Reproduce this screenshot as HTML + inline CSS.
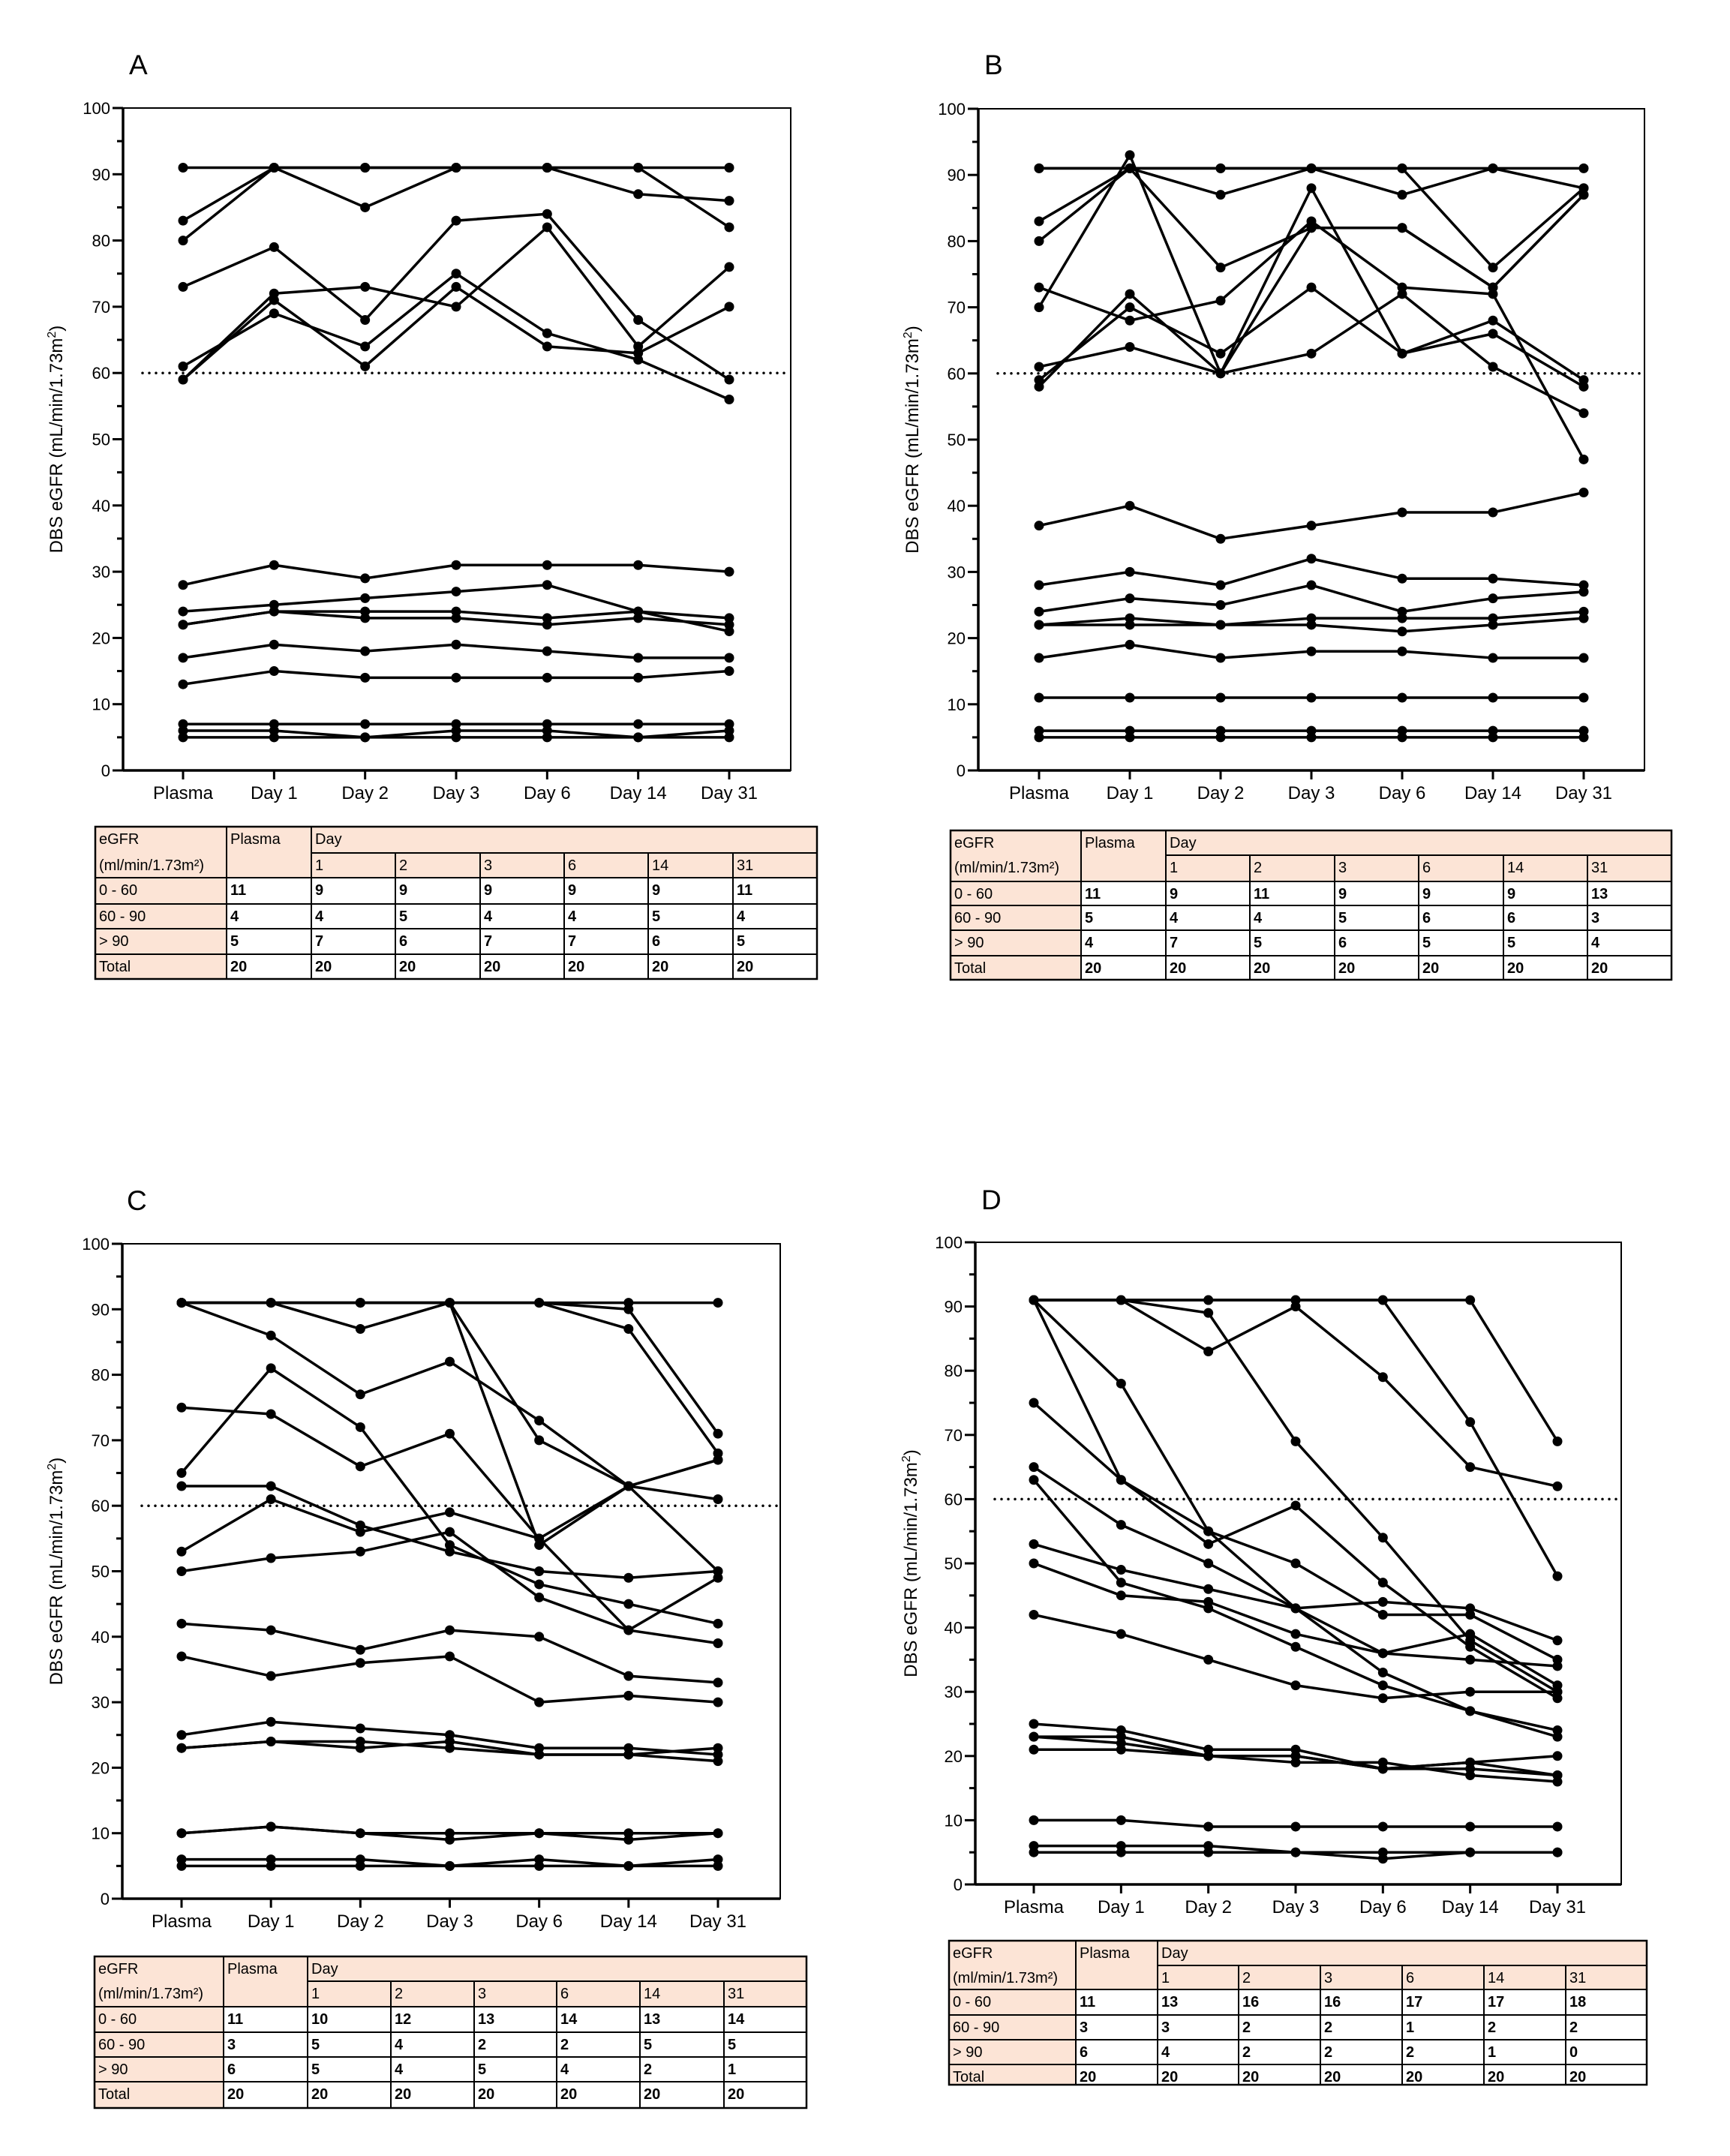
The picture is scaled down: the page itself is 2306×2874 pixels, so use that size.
<!DOCTYPE html>
<html><head><meta charset="utf-8"><style>
body{margin:0;background:#fff;}
svg{display:block;font-family:"Liberation Sans",Arial,sans-serif;}
</style></head><body>
<svg id="fig" width="2306" height="2874" viewBox="0 0 2306 2874" xmlns="http://www.w3.org/2000/svg"></svg>
<script>
const categories = ["Plasma","Day 1","Day 2","Day 3","Day 6","Day 14","Day 31"];
const yTicks = [0,10,20,30,40,50,60,70,80,90,100];
const seriesA = [
 [91,91,91,91,91,91,91],[83,91,85,91,91,87,86],[80,91,91,91,91,91,82],
 [73,79,68,83,84,68,59],[59,72,73,70,82,64,76],[61,69,64,75,66,62,56],[59,71,61,73,64,63,70],
 [28,31,29,31,31,31,30],[24,25,26,27,28,24,21],[22,24,24,24,23,24,23],[22,24,23,23,22,23,22],
 [17,19,18,19,18,17,17],[13,15,14,14,14,14,15],[7,7,7,7,7,7,7],[6,6,5,6,6,5,6],[5,5,5,5,5,5,5]];
const seriesB = [
 [91,91,91,91,91,91,91],[83,91,87,91,87,91,88],[80,91,76,82,82,73,87],[91,91,91,91,91,76,88],
 [70,93,60,88,63,68,59],[73,68,71,83,73,72,47],[61,64,60,63,72,61,54],[59,70,63,73,63,66,58],[58,72,60,82,82,73,87],
 [37,40,35,37,39,39,42],[28,30,28,32,29,29,28],[24,26,25,28,24,26,27],[22,23,22,23,23,23,24],
 [22,22,22,22,21,22,23],[17,19,17,18,18,17,17],[11,11,11,11,11,11,11],[6,6,6,6,6,6,6],[5,5,5,5,5,5,5]];
const seriesC = [
 [91,91,91,91,91,91,91],[91,91,87,91,91,90,71],[91,86,77,82,73,63,50],[91,91,91,91,70,63,61],
 [91,91,91,91,91,87,68],[91,91,91,91,54,63,67],[65,81,72,54,48,45,42],[75,74,66,71,55,41,49],
 [63,63,57,53,50,49,50],[53,61,56,59,55,63,67],[50,52,53,56,46,41,39],[42,41,38,41,40,34,33],
 [37,34,36,37,30,31,30],[25,27,26,25,23,23,22],[23,24,24,23,22,22,23],[23,24,23,24,22,22,21],
 [10,11,10,10,10,10,10],[10,11,10,9,10,9,10],[6,6,6,5,6,5,6],[5,5,5,5,5,5,5]];
const seriesD = [
 [91,91,91,91,91,91,69],[91,91,91,91,91,72,48],[91,91,89,69,54,38,30],[91,91,83,90,79,65,62],
 [91,78,55,50,42,42,35],[91,63,55,43,33,27,24],[75,63,53,59,47,37,29],[65,56,50,43,36,39,31],
 [63,47,43,37,31,27,23],[53,49,46,43,44,43,38],[50,45,44,39,36,35,34],[42,39,35,31,29,30,30],
 [25,24,21,21,18,19,20],[23,23,20,20,18,18,17],[23,22,20,19,19,17,16],[21,21,20,20,18,19,17],
 [10,10,9,9,9,9,9],[6,6,6,5,4,5,5],[5,5,5,5,5,5,5]];
const tableDays = ["1","2","3","6","14","31"];
const rowLabels = ["0 - 60","60 - 90","> 90","Total"];
const tableA = [[11,9,9,9,9,9,11],[4,4,5,4,4,5,4],[5,7,6,7,7,6,5],[20,20,20,20,20,20,20]];
const tableB = [[11,9,11,9,9,9,13],[5,4,4,5,6,6,3],[4,7,5,6,5,5,4],[20,20,20,20,20,20,20]];
const tableC = [[11,10,12,13,14,13,14],[3,5,4,2,2,5,5],[6,5,4,5,4,2,1],[20,20,20,20,20,20,20]];
const tableD = [[11,13,16,16,17,17,18],[3,3,2,2,1,2,2],[6,4,2,2,2,1,0],[20,20,20,20,20,20,20]];

const NS="http://www.w3.org/2000/svg";
const fig=document.getElementById('fig');
function mk(tag,attrs,parent){const e=document.createElementNS(NS,tag);for(const k in attrs)e.setAttribute(k,attrs[k]);(parent||fig).appendChild(e);return e;}

const panels=[
 {id:'a',letter:'A',lx:172,ly:99,f:{l:164,t:144,r:1054,b:1027},x0:244,x1:972,tx:83,series:seriesA,tab:tableA,
  cols:[127,302,415,527,640,752,864,977,1089],rows:[1102,1137,1170,1205,1238,1272,1305]},
 {id:'b',letter:'B',lx:1312,ly:99,f:{l:1304,t:145,r:2192,b:1027},x0:1385,x1:2111,tx:1224,series:seriesB,tab:tableB,
  cols:[1267,1441,1554,1666,1779,1891,2004,2116,2228],rows:[1107,1140,1175,1207,1240,1274,1306]},
 {id:'c',letter:'C',lx:169,ly:1613,f:{l:163,t:1658,r:1040,b:2531},x0:242,x1:957,tx:83,series:seriesC,tab:tableC,
  cols:[126,298,410,521,632,742,853,965,1075],rows:[2608,2641,2675,2709,2742,2775,2810]},
 {id:'d',letter:'D',lx:1308,ly:1612,f:{l:1300,t:1656,r:2161,b:2512},x0:1378,x1:2076,tx:1222,series:seriesD,tab:tableD,
  cols:[1265,1434,1543,1651,1760,1869,1978,2087,2195],rows:[2587,2620,2652,2686,2719,2752,2779]}
];

panels.forEach(p=>{
 const g=mk('g',{});
 
 
 const f=p.f;
 const yS=v=>f.b-(v/100)*(f.b-f.t);
 const xS=i=>p.x0+i*(p.x1-p.x0)/(categories.length-1);
 const L=mk('text',{x:p.lx,y:p.ly,'font-size':37},g);L.textContent=p.letter;
 
 
 const fr=mk('rect',{x:f.l,y:f.t,width:f.r-f.l,height:f.b-f.t,fill:'none',stroke:'#000','stroke-width':2},g);
 
 
 mk('line',{x1:f.l,y1:f.t,x2:f.l,y2:f.b,stroke:'#000','stroke-width':3.5},g);
 mk('line',{x1:f.l,y1:f.b,x2:f.r,y2:f.b,stroke:'#000','stroke-width':3.5},g);
 for(let v=5;v<100;v+=10){mk('line',{x1:f.l-8,y1:yS(v),x2:f.l,y2:yS(v),stroke:'#000','stroke-width':3},g);}
 yTicks.forEach(v=>{
  mk('line',{x1:f.l-14,y1:yS(v),x2:f.l,y2:yS(v),stroke:'#000','stroke-width':3},g);
  const t=mk('text',{x:f.l-17,y:yS(v)+8,'font-size':22,'text-anchor':'end'},g);t.textContent=v;
  
  
 });
 categories.forEach((c,i)=>{
  mk('line',{x1:xS(i),y1:f.b,x2:xS(i),y2:f.b+12,stroke:'#000','stroke-width':3},g);
  const t=mk('text',{x:xS(i),y:f.b+38,'font-size':24,'text-anchor':'middle'},g);t.textContent=c;
  
  
 });
 const cy=(f.t+f.b)/2;
 const yt=mk('text',{x:p.tx,y:cy,'font-size':24,'text-anchor':'middle',transform:`rotate(-90 ${p.tx} ${cy})`},g);
 
 
 yt.appendChild(document.createTextNode('DBS eGFR (mL/min/1.73m'));
 const sup=mk('tspan',{dy:-9,'font-size':16},yt);sup.textContent='2';
 const cl=mk('tspan',{dy:9},yt);cl.textContent=')';
 const dl=mk('line',{x1:f.l+26,y1:yS(60),x2:f.r,y2:yS(60),stroke:'#000','stroke-width':3.5,'stroke-dasharray':'0 9','stroke-linecap':'round'},g);
 
 
 p.series.forEach((s,k)=>{
  const pl=mk('polyline',{points:s.map((v,i)=>xS(i)+','+yS(v)).join(' '),fill:'none',stroke:'#000','stroke-width':3.5,'stroke-linejoin':'round'},g);
  
  
  s.forEach((v,i)=>{
   const c=mk('circle',{cx:xS(i),cy:yS(v),r:6.5,fill:'#000'},g);
   
   
  });
 });
 const C=p.cols,R=p.rows,peach='#fce4d6';
 const tg=mk('g',{},g);
 
 
 mk('rect',{x:C[0],y:R[0],width:C[8]-C[0],height:R[2]-R[0],fill:peach},tg);
 mk('rect',{x:C[0],y:R[0],width:C[1]-C[0],height:R[6]-R[0],fill:peach},tg);
 const ln=(x1,y1,x2,y2,w)=>mk('line',{x1,y1,x2,y2,stroke:'#000','stroke-width':w||2},tg);
 ln(C[2],R[1],C[8],R[1]);
 for(let r=2;r<6;r++)ln(C[0],R[r],C[8],R[r]);
 ln(C[1],R[0],C[1],R[6]);ln(C[2],R[0],C[2],R[6]);
 for(let c=3;c<8;c++)ln(C[c],R[1],C[c],R[6]);
 mk('rect',{x:C[0],y:R[0],width:C[8]-C[0],height:R[6]-R[0],fill:'none',stroke:'#000','stroke-width':2.5},tg);
 const tx=(x,y,s,b)=>{const t=mk('text',{x:x+5,y:y+23,'font-size':20,'font-weight':b?'bold':'normal'},tg);t.textContent=s;return t;};
 tx(C[0],R[0],'eGFR');tx(C[0],R[1],'(ml/min/1.73m²)');tx(C[1],R[0],'Plasma');tx(C[2],R[0],'Day');
 tableDays.forEach((d,i)=>tx(C[2+i],R[1],d));
 rowLabels.forEach((lab,r)=>{
  tx(C[0],R[2+r],lab);
  p.tab[r].forEach((v,c)=>tx(C[1+c],R[2+r],String(v),true));
 });
});
</script>
</body></html>
